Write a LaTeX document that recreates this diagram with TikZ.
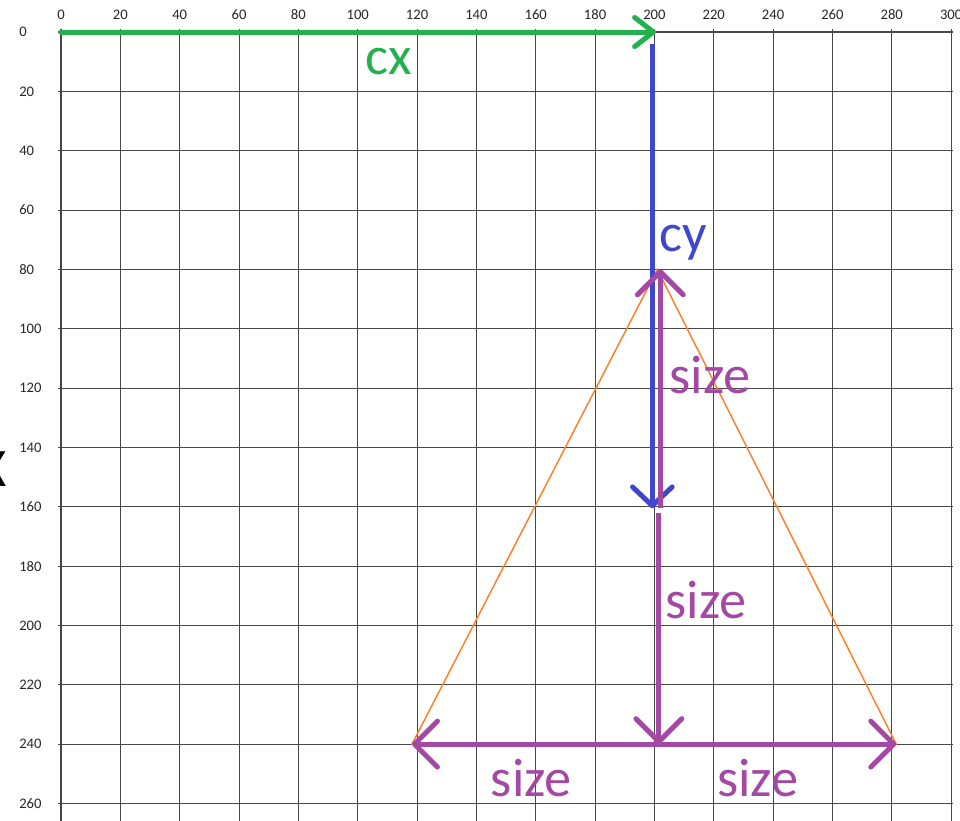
\documentclass[tikz,border=0pt]{standalone}
\usepackage{fontspec}
\setmainfont{Carlito}
\usepackage{tikz}
\usetikzlibrary{arrows.meta,positioning}
\definecolor{cxgreen}{HTML}{22B14C}
\definecolor{cyblue}{HTML}{3F48CC}
\definecolor{sizepurple}{HTML}{A349A4}
\definecolor{triorange}{HTML}{FF7F27}

\begin{document}
\begin{tikzpicture}[x=0.05cm, y=-0.05cm,
  gridline/.style={draw=black!72, line width=0.5pt},
  numlabel/.style={font=\fontsize{7}{8}\selectfont, text=black!85, inner sep=0pt},
  biglabel/.style={font=\fontsize{26}{30}\selectfont, inner sep=0pt},
  cxarr/.style={draw=cxgreen, line width=2.4pt, line cap=round,
                -{Straight Barb[length=9pt,width=14pt,round]}},
  cyarr/.style={draw=cyblue, line width=2.4pt,
                -{Straight Barb[length=9pt,width=19pt,round]}},
  sizearr/.style={draw=sizepurple, line width=2.4pt,
                  -{Straight Barb[length=11pt,width=22pt,round]}},
  tri/.style={draw=triorange, line width=0.7pt, line join=miter}
]
  \useasboundingbox (-20.56,-10.79) rectangle (303.0,265.9);

  % grid and axis numbers
  \foreach \gx in {0,20,...,300} {
    \draw[gridline] (\gx,-0.9) -- (\gx,266);
    \node[numlabel] (top\gx) at (\gx,-5.9) {\gx};
  }
  \foreach \gy in {0,20,...,260} {
    \draw[gridline] (-0.9,\gy) -- (300.5,\gy);
    \node[numlabel, anchor=west] (left\gy) at (-14.2,\gy) {\gy};
  }
  \node[biglabel, anchor=east] (cut) at (-18.2,147.4) {X};

  \coordinate (O) at (0,0);
  \coordinate (cxend) at (200.5,0);
  \coordinate (cytop) at (199.3,4);
  \coordinate (cyend) at (199.3,160.5);
  \coordinate (apex) at (201,80);
  \coordinate (bl) at (118.3,240);
  \coordinate (br) at (281.5,240);
  \coordinate (upfoot) at (202,160.5);
  \coordinate (uphead) at (202,80);
  \coordinate (dnfoot) at (201.5,162);
  \coordinate (dnhead) at (201.5,240);

  % triangle
  \draw[tri] (apex) -- (bl) -- (br) -- cycle;

  \draw[cxarr] (O) -- (cxend);
  \draw[cyarr] (cytop) -- (cyend);
  \draw[sizearr] (upfoot) -- (uphead);
  \draw[sizearr] (dnfoot) -- (dnhead);
  \draw[sizearr, {Straight Barb[length=11pt,width=22pt,round]}-{Straight Barb[length=11pt,width=22pt,round]}] (bl) -- (br);

  \node[biglabel, text=cxgreen] (cx) at (110.5,10) {cx};
  \node[biglabel, text=cyblue] (cy) at (209.6,71) {cy};
  \node[biglabel, text=sizepurple] (s1) at (218.7,115.5) {size};
  \node[biglabel, text=sizepurple] (s2) at (217.4,191.3) {size};
  \node[biglabel, text=sizepurple] (s3) at (158.5,251.5) {size};
  \node[biglabel, text=sizepurple] (s4) at (234.8,251.5) {size};
\end{tikzpicture}
\end{document}
